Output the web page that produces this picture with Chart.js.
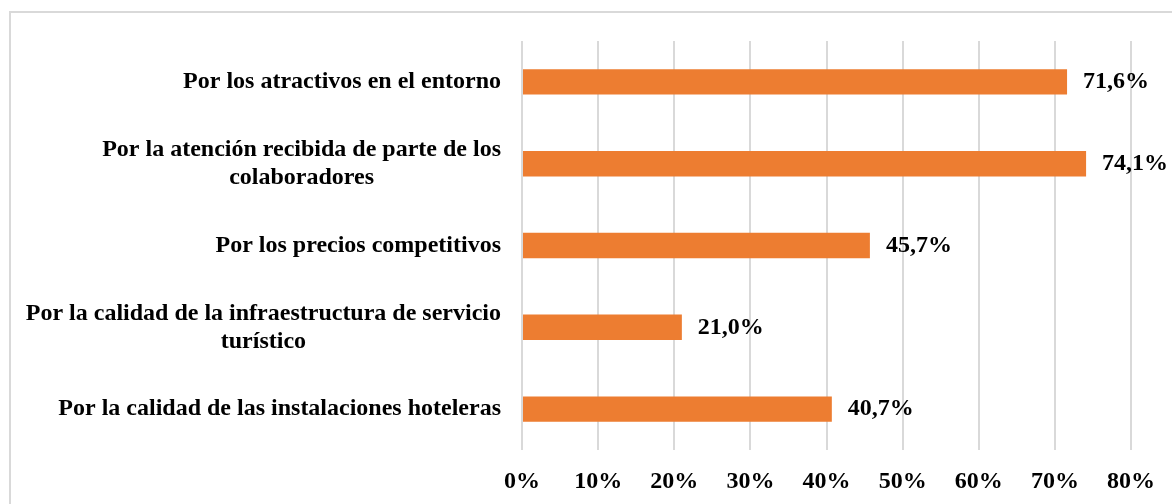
<!DOCTYPE html>
<html>
<head>
<meta charset="utf-8">
<script src="https://cdn.jsdelivr.net/npm/chart.js@4"></script>
<style>
  html, body { margin: 0; padding: 0; background: #fff; }
  #wrap { position: relative; width: 1172px; height: 504px; overflow: hidden; }
  #frame { position: absolute; left: 9px; top: 11px; width: 2000px; height: 2000px;
           border-left: 2px solid #d9d9d9; border-top: 2px solid #d9d9d9; box-sizing: border-box; }
  canvas { position: absolute; left: 0; top: 0; }
</style>
</head>
<body>
<div id="wrap">
  <div id="frame"></div>
  <canvas id="c" width="1172" height="504"></canvas>
</div>
<script>
const categories = [
  ["Por los atractivos en el entorno"],
  ["Por la atención recibida de parte de los", "colaboradores"],
  ["Por los precios competitivos"],
  ["Por la calidad de la infraestructura de servicio", "turístico"],
  ["Por la calidad de las instalaciones hoteleras"]
];
const values = [71.6, 74.1, 45.7, 21.0, 40.7];
const xTicks = [0, 10, 20, 30, 40, 50, 60, 70, 80];

const FONT = '"Liberation Serif", "Times New Roman", serif';
const FSIZE = 24;

const labelPlugin = {
  id: 'labels',
  afterDraw(chart) {
    const ctx = chart.ctx;
    const y = chart.scales.y;
    const meta = chart.getDatasetMeta(0);
    ctx.save();
    ctx.font = 'bold ' + FSIZE + 'px ' + FONT;
    ctx.fillStyle = '#000';
    ctx.textBaseline = 'middle';
    const lh = 28;
    categories.forEach((lines, i) => {
      const cy = y.getPixelForValue(i);
      let maxW = 0;
      lines.forEach(l => { maxW = Math.max(maxW, ctx.measureText(l).width); });
      const cx = 501 - maxW / 2;
      ctx.textAlign = 'center';
      const startY = cy - (lines.length - 1) * lh / 2;
      lines.forEach((l, k) => ctx.fillText(l, cx, startY + k * lh));
    });
    // value labels
    ctx.textAlign = 'left';
    meta.data.forEach((bar, i) => {
      const txt = values[i].toFixed(1).replace('.', ',') + '%';
      ctx.fillText(txt, bar.x + 16, bar.y);
    });
    ctx.restore();
  }
};

new Chart(document.getElementById('c'), {
  type: 'bar',
  data: {
    labels: categories,
    datasets: [{
      data: values,
      backgroundColor: '#ED7D31',
      borderWidth: 0,
      barPercentage: 0.31,
      categoryPercentage: 1.0
    }]
  },
  options: {
    indexAxis: 'y',
    responsive: false,
    animation: false,
    devicePixelRatio: 1,
    layout: { padding: { left: 0, right: 38, top: 41, bottom: 0 } },
    plugins: { legend: { display: false }, tooltip: { enabled: false } },
    scales: {
      x: {
        min: 0, max: 80,
        afterBuildTicks(scale) { scale.ticks = xTicks.map(v => ({ value: v })); },
        afterFit(scale) { scale.height = 54; },
        grid: { color: '#d9d9d9', lineWidth: 2, drawTicks: false },
        border: { display: false },
        ticks: {
          padding: 17,
          color: '#000',
          font: { family: FONT, size: FSIZE, weight: 'bold' },
          callback: v => v + '%'
        }
      },
      y: {
        afterFit(scale) { scale.width = 522; },
        grid: { display: false },
        border: { display: false },
        ticks: { display: false }
      }
    }
  },
  plugins: [labelPlugin]
});
</script>
</body>
</html>
